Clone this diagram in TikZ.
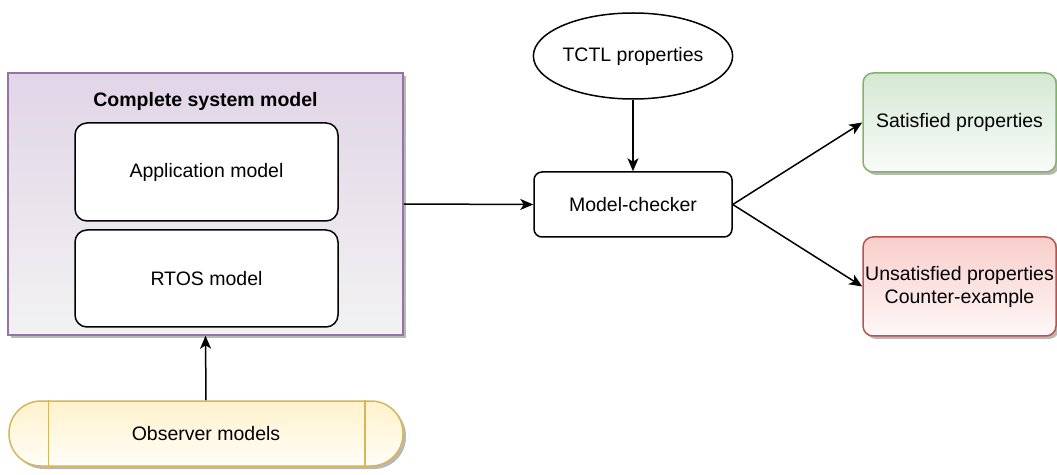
\documentclass[tikz,border=0pt]{standalone}
\usepackage{fontspec}
\setmainfont{Liberation Sans}
\usetikzlibrary{arrows.meta, shapes.geometric, shadows}
\definecolor{sysfill}{RGB}{225,213,231}
\definecolor{sysdraw}{RGB}{150,115,166}
\definecolor{obsfill}{RGB}{255,242,204}
\definecolor{obsdraw}{RGB}{214,182,86}
\definecolor{okfill}{RGB}{213,232,212}
\definecolor{okdraw}{RGB}{130,179,102}
\definecolor{badfill}{RGB}{248,206,204}
\definecolor{baddraw}{RGB}{184,84,80}
\tikzset{
  box/.style={draw, line width=1.5pt, fill=white, align=center, inner sep=0pt},
  shadowed/.style={drop shadow={shadow xshift=3pt, shadow yshift=-3pt, fill=black!28, opacity=1}},
}

\begin{document}
\begin{tikzpicture}[x=1pt, y=1pt, >={Stealth[length=13pt, width=11pt, inset=3.5pt]}, line width=1.5pt, font=\fontsize{19.5}{23}\selectfont]
	\useasboundingbox (0,0) rectangle (1057,474);
	% Systemmodell
	\node[box, shadowed, draw=sysdraw, top color=sysfill, bottom color=black!5, minimum width=395, minimum height=262] (system) at (205.5,270) {};
	\node[font=\fontsize{19.5}{23}\selectfont\bfseries] (systitle) at (205.5,373) {Complete system model};
	\node[box, rounded corners=12pt, minimum width=263, minimum height=98] (app) at (206.5,302) {Application model};
	\node[box, rounded corners=12pt, minimum width=263, minimum height=97] (rtos) at (206.5,195.5) {RTOS model};
	% Beobachter
	\node[box, shadowed, draw=obsdraw, top color=obsfill, bottom color=obsfill!15, rounded corners=32pt, minimum width=394, minimum height=65] (observer) at (206,40.5) {Observer models};
	\draw[obsdraw] ([xshift=40pt]observer.north west) -- ([xshift=40pt]observer.south west);
	\draw[obsdraw] ([xshift=-39pt]observer.north east) -- ([xshift=-39pt]observer.south east);
	% Model-Checker und Eigenschaften
	\node[box, rounded corners=8pt, minimum width=198, minimum height=65] (checker) at (633,269.5) {Model-checker};
	\node[box, ellipse, minimum width=198, minimum height=86] (tctl) at (633,418) {TCTL properties};
	% Ergebnisse
	\node[box, shadowed, rounded corners=10pt, draw=okdraw, top color=okfill, bottom color=okfill!15, minimum width=193, minimum height=99] (sat) at (959.5,351.5) {Satisfied properties};
	\node[box, shadowed, rounded corners=10pt, draw=baddraw, top color=badfill, bottom color=badfill!15, minimum width=193, minimum height=99] (unsat) at (959.5,187.5) {Unsatisfied properties\\Counter-example};
	% Pfeile
	\draw[->] (observer.north) -- (system.south);
	\draw[->] (system.east) -- (checker.west);
	\draw[->] (tctl.south) -- (checker.north);
	\draw[->] (checker.east) -- (sat.west);
	\draw[->] (checker.east) -- (unsat.west);
\end{tikzpicture}
\end{document}
